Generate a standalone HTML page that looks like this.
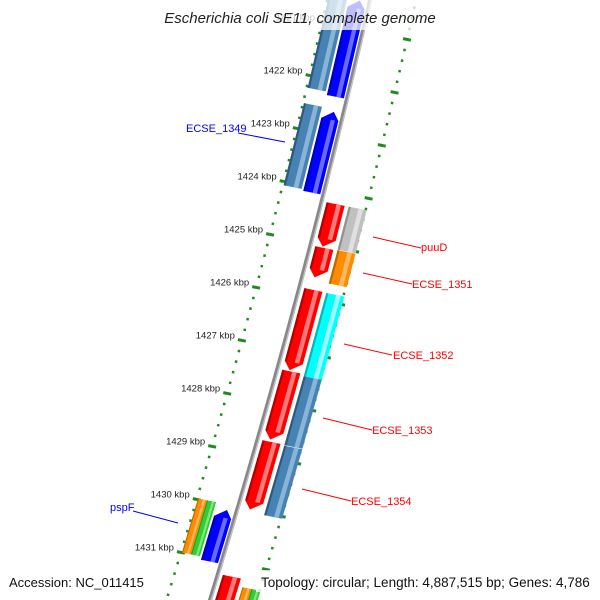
<!DOCTYPE html>
<html><head><meta charset="utf-8"><style>
html,body{margin:0;padding:0;background:#fff;}
svg{display:block;font-family:"Liberation Sans","DejaVu Sans",sans-serif;}
</style></head><body>
<svg id="map" width="600" height="600" viewBox="0 0 600 600" xmlns="http://www.w3.org/2000/svg">
<g id="ticks"></g>
<g id="feats"></g>
<path id="backbone" fill="none" stroke="#888" stroke-width="4"/>
<path id="backbone2" fill="none" stroke="#c4c4c4" stroke-width="1.2"/>
<g id="labels" font-size="11">
 <line x1="238" y1="133" x2="285" y2="142" stroke="#0000ff"/>
 <text x="186" y="132" fill="#0000ff">ECSE_1349</text>
 <line x1="373" y1="237" x2="421" y2="248" stroke="#ff0000"/>
 <text x="421" y="251" fill="#ff0000">puuD</text>
 <line x1="363" y1="273" x2="412" y2="284" stroke="#ff0000"/>
 <text x="412" y="288" fill="#ff0000">ECSE_1351</text>
 <line x1="344" y1="344" x2="392" y2="355" stroke="#ff0000"/>
 <text x="393" y="359" fill="#ff0000">ECSE_1352</text>
 <line x1="323" y1="418" x2="372" y2="430" stroke="#ff0000"/>
 <text x="372" y="434" fill="#ff0000">ECSE_1353</text>
 <line x1="302" y1="489" x2="351" y2="501" stroke="#ff0000"/>
 <text x="351" y="505" fill="#ff0000">ECSE_1354</text>
 <line x1="133" y1="511" x2="178" y2="523" stroke="#0000ff"/>
 <text x="110" y="511" fill="#0000ff">pspF</text>
</g>
<rect x="158" y="0" width="284" height="30" fill="#fff" fill-opacity="0.75"/>
<text x="300" y="23" text-anchor="middle" font-size="15" font-style="italic" fill="#222">Escherichia coli SE11, complete genome</text>
<rect x="4" y="570" width="146" height="22" fill="#fff" fill-opacity="0.75"/>
<text x="9" y="587" font-size="13" fill="#111">Accession: NC_011415</text>
<rect x="256" y="570" width="340" height="22" fill="#fff" fill-opacity="0.75"/>
<text x="261" y="587" font-size="13.5" fill="#111">Topology: circular; Length: 4,887,515 bp; Genes: 4,786</text>
</svg>
<script>
// data
var featStart = [1420.47,1422.57,1430.08, 1420.0,1422.52,1429.98,1429.98, 1424.22,1425.05,1425.84,1427.38,1428.71,1431.25, 1424.22,1425.04,1425.85,1427.42,1428.73,1431.4,1431.4];
var featEnd   = [1422.29,1424.10,1431.06, 1422.23,1424.07,1431.0,1431.0, 1425.03,1425.61,1427.36,1428.67,1429.99,1432.6, 1425.03,1425.67,1427.42,1428.72,1430.04,1432.6,1432.6];
var featRing  = ['L1','L1','L1', 'L0','L0','L0a','L0b', 'R0','R0','R0','R0','R0','R0', 'R1','R1','R1','R1','R1','R1a','R1b'];
var featColor = ['#0000ff','#0000ff','#0000ff', '#4682b4','#4682b4','#ff8c00','#32cd32', '#ff0000','#ff0000','#ff0000','#ff0000','#ff0000','#ff0000', '#c0c0c0','#ff8c00','#00ffff','#4682b4','#4682b4','#ff8c00','#32cd32'];
var featDir   = [-1,-1,-1, 0,0,0,0, 1,1,1,1,1,1, 0,0,0,0,0,0,0];
var tickMajors = [1420,1421,1422,1423,1424,1425,1426,1427,1428,1429,1430,1431,1432,1433];
var tickLabels = ['1420 kbp','1421 kbp','1422 kbp','1423 kbp','1424 kbp','1425 kbp','1426 kbp','1427 kbp','1428 kbp','1429 kbp','1430 kbp','1431 kbp','1432 kbp','1433 kbp'];

var NS='http://www.w3.org/2000/svg';
var S=0.2, LR=-41, RR=44;
function yb(k){return 83.6+(k-1422)*53;}
function X(y){return 370-0.2267*y-0.0000667*y*y;}
function pt(k,o){var y=yb(k);return [X(y)+o, y+S*o];}
var rings={L0:[-40,-22],L0a:[-40,-31],L0b:[-31,-22],L1:[-20,-3],R0:[5,23],R1:[27,45],R1a:[27,36],R1b:[36,45]};
function light(c){return {'#0000ff':'#6a6aff','#4682b4':'#8ab4d6','#ff8c00':'#ffb860','#32cd32':'#80e680','#ff0000':'#ff7a7a','#c0c0c0':'#e0e0e0','#00ffff':'#9affff'}[c]||c;}
function dark(c){return {'#0000ff':'#0000b0','#4682b4':'#2f5a80','#ff8c00':'#c06800','#32cd32':'#1f9a1f','#ff0000':'#b00000','#c0c0c0':'#909090','#00ffff':'#00b8b8'}[c]||c;}

var d='';
for(var y=-10;y<=610;y+=5){d+=(y==-10?'M':'L')+X(y).toFixed(2)+' '+y+' ';}
document.getElementById('backbone').setAttribute('d',d);
var d2='';
for(var y=-10;y<=610;y+=5){d2+=(y==-10?'M':'L')+(X(y)+1.3).toFixed(2)+' '+y+' ';}
document.getElementById('backbone2').setAttribute('d',d2);

var tg=document.getElementById('ticks');
function seg(k,o,len,w){
  var p=pt(k,o);var l=document.createElementNS(NS,'line');
  var dx=len/2/Math.sqrt(1+S*S),dy=dx*S;
  l.setAttribute('x1',p[0]-dx);l.setAttribute('y1',p[1]-dy);
  l.setAttribute('x2',p[0]+dx);l.setAttribute('y2',p[1]+dy);
  l.setAttribute('stroke','#1f8a1f');l.setAttribute('stroke-width',w);
  
  
  tg.appendChild(l);
}
for(var i=0;i<=65;i++){
  var k=1420+i*0.2;
  if(i%5==0) continue;
  seg(k,LR,2.5,2.5);seg(k,RR,2.5,2.5);
}
tickMajors.forEach(function(k,i){
  seg(k,LR,8,3);seg(k,RR,8,3);
  var p=pt(k,LR);
  if(p[1]>590||p[1]<8) return;
  var t=document.createElementNS(NS,'text');
  t.setAttribute('x',p[0]-7);t.setAttribute('y',p[1]-2);
  t.setAttribute('text-anchor','end');t.setAttribute('font-size','9.5');t.setAttribute('fill','#222');
  
  
  t.textContent=tickLabels[i];tg.appendChild(t);
});

var fg=document.getElementById('feats');
function poly(pts,fill,name){
  var p=document.createElementNS(NS,'polygon');
  p.setAttribute('points',pts.map(function(q){return q[0].toFixed(2)+','+q[1].toFixed(2);}).join(' '));
  p.setAttribute('fill',fill);
  
  
  fg.appendChild(p);
}
for(var i=0;i<featStart.length;i++){
  var r=rings[featRing[i]],a=featStart[i],b=featEnd[i],o1=r[0],o2=r[1],om=(o1+o2)/2,h=0.15,c=featColor[i],pts;
  if(featDir[i]==-1){
    pts=[pt(a,om+2),pt(a+h,o2),pt(b,o2),pt(b,o1),pt(a+h,o1)];
  }else if(featDir[i]==1){
    pts=[pt(a,o1),pt(a,o2),pt(b-h,o2),pt(b,om-2),pt(b-h,o1)];
  }else{
    pts=[pt(a,o1),pt(a,o2),pt(b,o2),pt(b,o1)];
  }
  poly(pts,c,'feature-'+i);
  var w=o2-o1;
  var aa=a+(featDir[i]==-1?h:0), bb=b-(featDir[i]==1?h:0);
  poly([pt(aa,o1+w*0.55),pt(aa,o1+w*0.8),pt(bb,o1+w*0.8),pt(bb,o1+w*0.55)],light(c),'feature-highlight-'+i);
  poly([pt(aa,o1),pt(aa,o1+w*0.12),pt(bb,o1+w*0.12),pt(bb,o1)],dark(c),'feature-shadow-'+i);
}
</script>
</body></html>
